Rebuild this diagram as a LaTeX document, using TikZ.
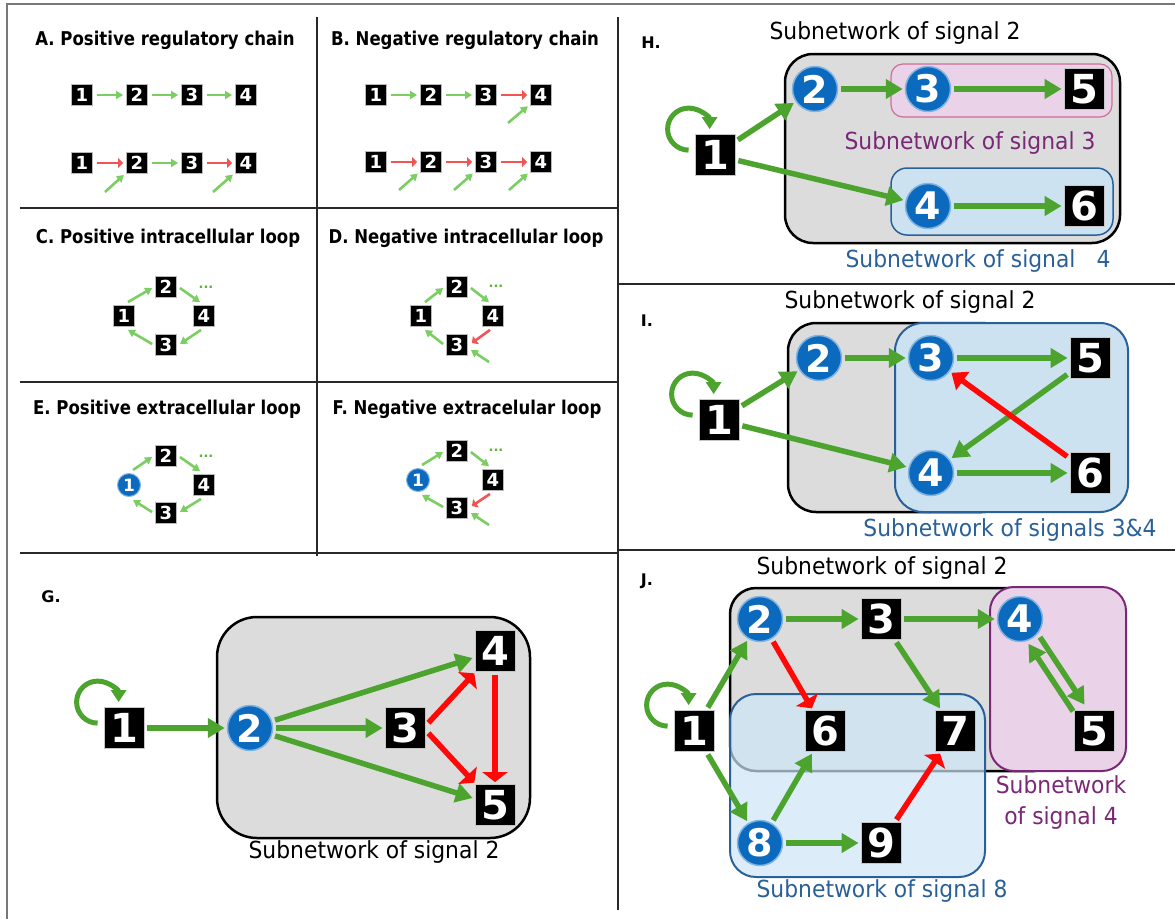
\documentclass[tikz,border=0pt]{standalone}
\usepackage{fontspec}
\setmainfont{DejaVu Sans}
\newfontfamily\headfont[FakeStretch=0.87]{DejaVu Sans}
\newfontfamily\subfont[FakeStretch=0.93]{DejaVu Sans}
\usetikzlibrary{arrows.meta,calc}

\definecolor{sgreen}{RGB}{122,206,98}
\definecolor{sred}{RGB}{242,84,84}
\definecolor{dotgreen}{RGB}{95,178,62}
\definecolor{bgreen}{RGB}{76,164,46}
\definecolor{bred}{RGB}{255,8,8}
\definecolor{nblue}{RGB}{12,106,190}
\definecolor{nrim}{RGB}{130,180,225}
\definecolor{boxgray}{RGB}{220,220,220}
\definecolor{pinkfill}{RGB}{234,210,232}
\definecolor{pinkline}{RGB}{205,110,150}
\definecolor{purpline}{RGB}{122,40,118}
\definecolor{bluefill}{RGB}{204,226,241}
\definecolor{bluefillb}{RGB}{205,230,247}
\definecolor{blueline}{RGB}{42,96,152}
\definecolor{framegray}{RGB}{120,120,120}
\definecolor{sepgray}{RGB}{40,40,40}

\begin{document}
\begin{tikzpicture}[x=1pt,y=-1pt,
  title/.style={inner sep=0, font=\headfont\bfseries\fontsize{19}{20}\selectfont},
  plabel/.style={inner sep=0, font=\bfseries\fontsize{16}{18}\selectfont},
  sub/.style={inner sep=0, font=\subfont\fontsize{23.5}{31}\selectfont},
  dots/.style={inner sep=0, text=dotgreen, font=\bfseries\fontsize{13}{13}\selectfont},
  sq/.style={rectangle, fill=black, draw=gray!55, line width=0.8, text=white,
    minimum width=21, minimum height=21, inner sep=0, font=\bfseries\fontsize{18}{18}\selectfont},
  sc/.style={circle, fill=nblue, draw=nrim, line width=1, text=white,
    minimum size=23, inner sep=0, font=\bfseries\fontsize{17}{17}\selectfont},
  bsq/.style={rectangle, fill=black, draw=gray!45, line width=0.8, text=white,
    minimum width=40, minimum height=41, inner sep=0, font=\bfseries\fontsize{40}{40}\selectfont},
  bc/.style={circle, fill=nblue, draw=nrim, line width=1.5, text=white,
    minimum size=45, inner sep=0, font=\bfseries\fontsize{38}{38}\selectfont},
  sg/.style={draw=sgreen, line width=2.6, -{Triangle[length=7pt,width=8pt]}, shorten >=3, shorten <=4},
  sgl/.style={sg, shorten >=0, shorten <=0},
  sr/.style={draw=sred, line width=2.6, -{Triangle[length=5pt,width=10pt]}, shorten >=3, shorten <=4},
  srl/.style={sr, shorten >=0, shorten <=0},
  bg/.style={draw=bgreen, line width=5.5, -{Triangle[length=17pt,width=19pt]}, shorten >=2, shorten <=3},
  br/.style={draw=bred, line width=5.5, -{Triangle[length=10pt,width=25pt]}, shorten >=2, shorten <=3},
  bloop/.style={draw=bgreen, line width=5, -{Triangle[length=12pt,width=15pt]}},
  graybox/.style={fill=boxgray, draw=black, line width=2.5},
  sep/.style={draw=sepgray, line width=1.8}
]
\useasboundingbox (0,0) rectangle (1175,919);

% outer frame and panel separators
\draw[framegray, line width=2.5] (7,919) -- (7,4) -- (1175,4);
\draw[sep] (317,17) -- (317,556);
\draw[sep] (618,17) -- (618,910);
\draw[sep] (20,208) -- (618,208);
\draw[sep] (20,382) -- (618,382);
\draw[sep] (20,553) -- (618,553);
\draw[sep] (618,284) -- (1175,284);
\draw[sep] (618,550) -- (1175,550);

% ---------- A ----------
\node[title] (ta) at (165,40) {A. Positive regulatory chain};
\node[sq] (a11) at (82,95) {1};
\node[sq] (a12) at (137,95) {2};
\node[sq] (a13) at (192,95) {3};
\node[sq] (a14) at (246,95) {4};
\draw[sg] (a11) -- (a12);
\draw[sg] (a12) -- (a13);
\draw[sg] (a13) -- (a14);
\node[sq] (a21) at (82,163) {1};
\node[sq] (a22) at (137,163) {2};
\node[sq] (a23) at (192,163) {3};
\node[sq] (a24) at (246,163) {4};
\draw[sr] (a21) -- (a22);
\draw[sg] (a22) -- (a23);
\draw[sr] (a23) -- (a24);
\coordinate (a22x) at (105,192);
\coordinate (a24x) at (213,192);
\draw[sg, shorten <=0] (a22x) -- (a22);
\draw[sg, shorten <=0] (a24x) -- (a24);

% ---------- B ----------
\node[title] (tb) at (465,40) {B. Negative regulatory chain};
\node[sq] (b11) at (376,95) {1};
\node[sq] (b12) at (431,95) {2};
\node[sq] (b13) at (486,95) {3};
\node[sq] (b14) at (541,95) {4};
\draw[sg] (b11) -- (b12);
\draw[sg] (b12) -- (b13);
\draw[sr] (b13) -- (b14);
\coordinate (b14x) at (508,123);
\draw[sg, shorten <=0] (b14x) -- (b14);
\node[sq] (b21) at (376,162) {1};
\node[sq] (b22) at (431,162) {2};
\node[sq] (b23) at (486,162) {3};
\node[sq] (b24) at (541,162) {4};
\draw[sr] (b21) -- (b22);
\draw[sr] (b22) -- (b23);
\draw[sr] (b23) -- (b24);
\coordinate (b22x) at (399,190);
\coordinate (b23x) at (454,190);
\coordinate (b24x) at (509,190);
\draw[sg, shorten <=0] (b22x) -- (b22);
\draw[sg, shorten <=0] (b23x) -- (b23);
\draw[sg, shorten <=0] (b24x) -- (b24);

% ---------- C ----------
\node[title] (tc) at (168,238) {C. Positive intracellular loop};
\node[sq] (c2) at (166,287) {2};
\node[sq] (c1) at (124,316) {1};
\node[sq] (c4) at (204,316) {4};
\node[sq] (c3) at (166,345) {3};
\node[dots] (cdots) at (206,287) {...};
\draw[sgl] ($(c1.north)+(4,-3)$) -- ($(c2.west)+(-3,1)$);
\draw[sgl] ($(c2.east)+(3,1)$) -- ($(c4.north)+(-4,-3)$);
\draw[sgl] ($(c4.south)+(-3,3)$) -- ($(c3.east)+(3,-1)$);
\draw[sgl] ($(c3.west)+(-3,-1)$) -- ($(c1.south)+(4,3)$);

% ---------- D ----------
\node[title] (td) at (466,238) {D. Negative intracellular loop};
\node[sq] (d2) at (457,287) {2};
\node[sq] (d1) at (421,316) {1};
\node[sq] (d4) at (493,316) {4};
\node[sq] (d3) at (457,345) {3};
\node[dots] (ddots) at (496,286) {...};
\draw[sgl] ($(d1.north)+(4,-3)$) -- ($(d2.west)+(-3,1)$);
\draw[sgl] ($(d2.east)+(3,1)$) -- ($(d4.north)+(-4,-3)$);
\draw[srl] ($(d4.south)+(-3,3)$) -- ($(d3.east)+(4,-2)$);
\draw[sgl] ($(d3.west)+(-3,-1)$) -- ($(d1.south)+(4,3)$);
\coordinate (d3x) at (489,362);
\draw[sgl] (d3x) -- ($(d3.east)+(3,5)$);

% ---------- E ----------
\node[title] (te) at (167,409) {E. Positive extracellular loop};
\node[sq] (e2) at (166,456) {2};
\node[sc] (e1) at (129,485) {1};
\node[sq] (e4) at (204,485) {4};
\node[sq] (e3) at (166,513) {3};
\node[dots] (edots) at (206,456) {...};
\draw[sgl] ($(e1.north)+(4,-3)$) -- ($(e2.west)+(-3,1)$);
\draw[sgl] ($(e2.east)+(3,1)$) -- ($(e4.north)+(-4,-3)$);
\draw[sgl] ($(e4.south)+(-3,3)$) -- ($(e3.east)+(3,-1)$);
\draw[sgl] ($(e3.west)+(-3,-1)$) -- ($(e1.south)+(4,3)$);

% ---------- F ----------
\node[title] (tf) at (467,409) {F. Negative extracelular loop};
\node[sq] (f2) at (457,451) {2};
\node[sc] (f1) at (418,480) {1};
\node[sq] (f4) at (493,480) {4};
\node[sq] (f3) at (457,508) {3};
\node[dots] (fdots) at (496,450) {...};
\draw[sgl] ($(f1.north)+(4,-3)$) -- ($(f2.west)+(-3,1)$);
\draw[sgl] ($(f2.east)+(3,1)$) -- ($(f4.north)+(-4,-3)$);
\draw[srl] ($(f4.south)+(-3,3)$) -- ($(f3.east)+(4,-2)$);
\draw[sgl] ($(f3.west)+(-3,-1)$) -- ($(f1.south)+(4,3)$);
\coordinate (f3x) at (489,525);
\draw[sgl] (f3x) -- ($(f3.east)+(3,5)$);

% ---------- G ----------
\node[plabel] (tg) at (51,597) {G.};
\draw[graybox, rounded corners=40] (217,617) rectangle (530,838);
\node[sub] (sg2) at (374,852) {Subnetwork of signal 2};
\node[bsq] (g1) at (124,728) {1};
\node[bc]  (g2) at (250,728) {2};
\node[bsq] (g3) at (405,728) {3};
\node[bsq] (g4) at (495,651) {4};
\node[bsq] (g5) at (495,805) {5};
\draw[bloop] ($(g1.north west)+(-6,16)$) arc[start angle=90, end angle=360, radius=21];
\draw[bg] (g1) -- (g2);
\draw[bg] (g2) -- (g3);
\draw[bg] (g2) -- (g4);
\draw[bg] (g2) -- (g5);
\draw[br] ($(g3.east)+(1,-3)$) -- (g4);
\draw[br] ($(g3.east)+(1,3)$) -- (g5);
\draw[br] (g4) -- (g5);

% ---------- H ----------
\node[plabel] (th) at (651,43) {H.};
\node[sub] (sh2) at (895,33) {Subnetwork of signal 2};
\draw[graybox, rounded corners=28] (785,54) rectangle (1120,243);
\draw[fill=pinkfill, draw=pinkline, line width=1.2, rounded corners=12] (891,64) rectangle (1112,117);
\draw[fill=bluefill, draw=blueline, line width=1.5, rounded corners=16] (891,168) rectangle (1113,235);
\node[sub, text=purpline] (sh3) at (970,143) {Subnetwork of signal 3};
\node[sub, text=blueline] (sh4) at (978,261) {Subnetwork of signal\hspace{21pt}4};
\node[bsq] (h1) at (715,155) {1};
\node[bc]  (h2) at (815,89) {2};
\node[bc]  (h3) at (928,89) {3};
\node[bsq] (h5) at (1084,89) {5};
\node[bc]  (h4) at (928,206) {4};
\node[bsq] (h6) at (1084,206) {6};
\draw[bloop] ($(h1.north west)+(-6,16)$) arc[start angle=90, end angle=360, radius=21];
\draw[bg] (h1) -- (h2);
\draw[bg] (h1) -- (h4);
\draw[bg] (h2) -- (h3);
\draw[bg] (h3) -- (h5);
\draw[bg] (h4) -- (h6);

% ---------- I ----------
\node[plabel] (ti) at (647,321) {I.};
\node[sub] (si2) at (910,302) {Subnetwork of signal 2};
\draw[graybox, rounded corners=28] (788,323) rectangle (1010,512);
\draw[fill=bluefill, draw=blueline, line width=2, rounded corners=28] (895,323) rectangle (1128,512);
\node[sub, text=blueline] (si34) at (1010,530) {Subnetwork of signals 3\&4};
\node[bsq] (i1) at (719,420) {1};
\node[bc]  (i2) at (819,358) {2};
\node[bc]  (i3) at (931,358) {3};
\node[bsq] (i5) at (1090,358) {5};
\node[bc]  (i4) at (931,473) {4};
\node[bsq] (i6) at (1090,473) {6};
\draw[bloop] ($(i1.north west)+(-6,16)$) arc[start angle=90, end angle=360, radius=21];
\draw[bg] (i1) -- (i2);
\draw[bg] (i1) -- (i4);
\draw[bg] (i2) -- (i3);
\draw[bg] (i3) -- (i5);
\draw[bg] (i4) -- (i6);
\draw[bg] (i5) -- (i4);
\draw[br, -{Triangle[length=14pt,width=22pt]}] (i6) -- (i3);

% ---------- J ----------
\node[plabel] (tj) at (647,581) {J.};
\node[sub] (sj2) at (882,568) {Subnetwork of signal 2};
\draw[graybox, rounded corners=26] (730,588) rectangle (1060,771);
\draw[fill=pinkfill, draw=purpline, line width=2, rounded corners=24] (990,587) rectangle (1126,771);
\draw[fill=bluefillb, fill opacity=0.7, draw=blueline, line width=2, rounded corners=26] (730,694) rectangle (985,877);
\node[sub, text=purpline, align=center] (sj4) at (1061,803) {Subnetwork\\of signal 4};
\node[sub, text=blueline] (sj8) at (882,891) {Subnetwork of signal 8};
\node[bsq] (j1) at (694,731) {1};
\node[bc]  (j2) at (760,619) {2};
\node[bsq] (j3) at (881,619) {3};
\node[bc]  (j4) at (1020,619) {4};
\node[bsq] (j6) at (825,731) {6};
\node[bsq] (j7) at (955,731) {7};
\node[bsq] (j5) at (1094,731) {5};
\node[bc]  (j8) at (760,843) {8};
\node[bsq] (j9) at (881,843) {9};
\draw[bloop] ($(j1.north west)+(-6,16)$) arc[start angle=90, end angle=360, radius=21];
\draw[bg] (j1) -- (j2);
\draw[bg] (j1) -- (j8);
\draw[bg] (j2) -- (j3);
\draw[bg] (j3) -- (j4);
\draw[bg] (j3) -- (j7);
\draw[bg] (j8) -- (j6);
\draw[bg] (j8) -- (j9);
\draw[bg, transform canvas={shift={(5.5,-3.7)}}] (j4) -- (j5);
\draw[bg, transform canvas={shift={(-5.5,3.7)}}] (j5) -- (j4);
\draw[br] (j2) -- (j6);
\draw[br] (j9) -- (j7);
\end{tikzpicture}
\end{document}
